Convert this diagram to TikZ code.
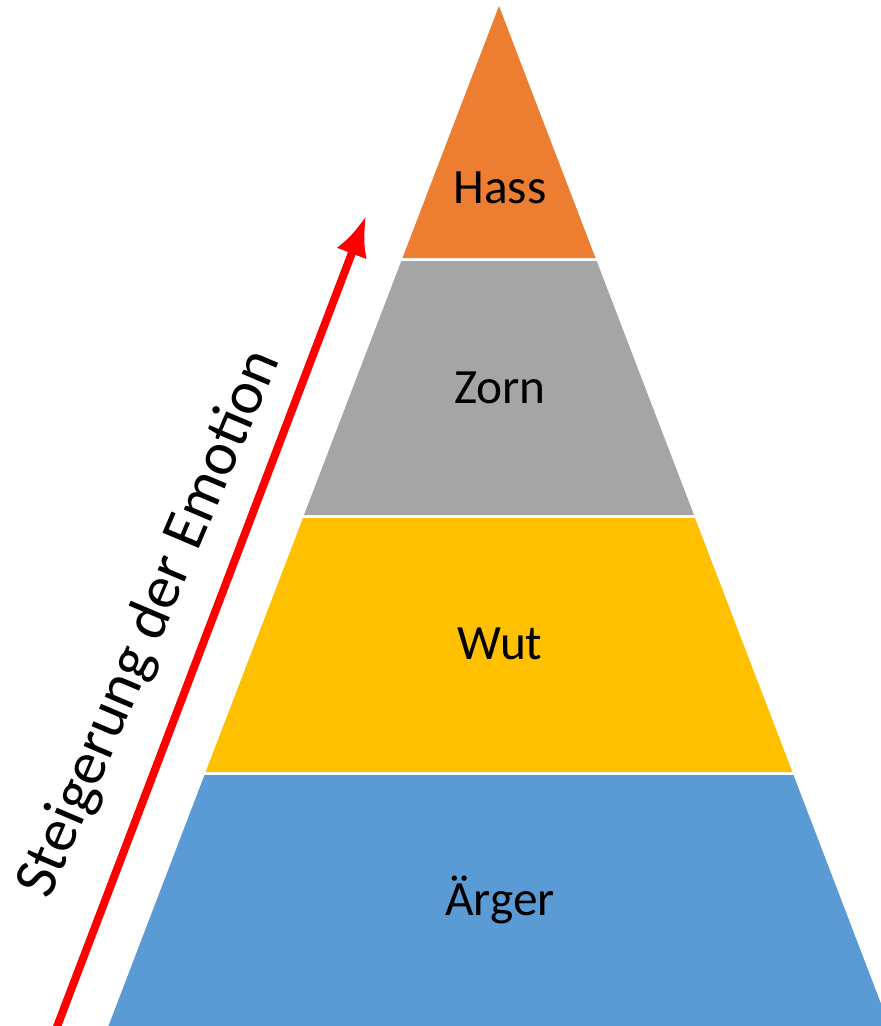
\documentclass[tikz,border=0pt]{standalone}
\usepackage{fontspec}
\setmainfont{Carlito}
\usetikzlibrary{arrows.meta}
\begin{document}
\definecolor{hassorange}{HTML}{ED7D31}
\definecolor{zorngray}{HTML}{A5A5A5}
\definecolor{wutyellow}{HTML}{FFC000}
\definecolor{aergerblue}{HTML}{5B9BD5}
\begin{tikzpicture}[x=0.75pt, y=-0.75pt,
		stufe/.style={font=\fontsize{37}{44}\selectfont, text=black}]
		\clip (0, 0) rectangle (881, 1026);

		% Schichten der Pyramide
		\fill[hassorange] (499, 6) -- (595.5, 258) -- (402.5, 258) -- cycle;
		\fill[zorngray] (401.3, 261) -- (596.7, 261) -- (694, 515) -- (304, 515) -- cycle;
		\fill[wutyellow] (303, 518) -- (695, 518) -- (792.4, 772) -- (205.6, 772) -- cycle;
		\fill[aergerblue] (204.5, 775) -- (793.5, 775) -- (893, 1035) -- (105, 1035) -- cycle;

		% Beschriftung
		\node[stufe] (hass) at (500, 188) {Hass};
		\node[stufe] (zorn) at (500, 388) {Zorn};
		\node[stufe] (wut) at (500, 644) {Wut};
		\node[stufe] (aerger) at (500, 900) {Ärger};

		% Pfeil
		\coordinate (unten) at (55, 1032);
		\coordinate (oben) at (366, 216);
		\draw[red, line width=6pt, -{Latex[length=30pt, width=24pt]}] (unten) -- (oben);
		\node[rotate=67, font=\fontsize{46}{55}\selectfont] (steigerung) at (150, 624) {Steigerung der Emotion};
	\end{tikzpicture}
\end{document}
